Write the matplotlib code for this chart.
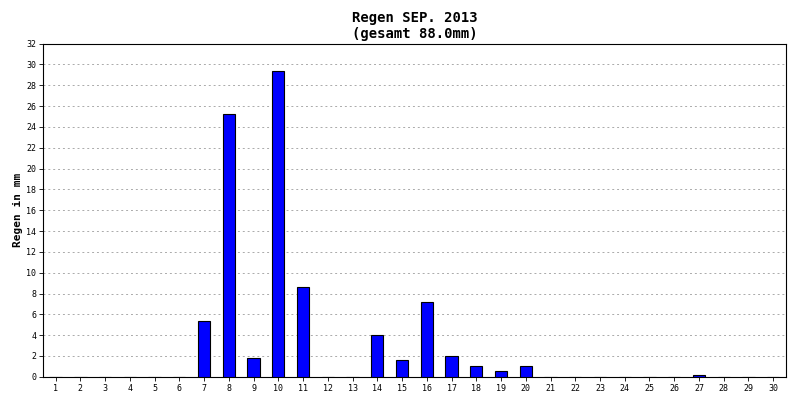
import numpy as np
import matplotlib
matplotlib.use("Agg")
import matplotlib.pyplot as plt

days = list(range(1, 31))
rain = [0, 0, 0, 0, 0, 0, 5.4, 25.2, 1.8, 29.4, 8.6, 0, 0, 4.0, 1.6,
        7.2, 2.0, 1.0, 0.6, 1.0, 0, 0, 0, 0, 0, 0, 0.2, 0, 0, 0]
yticks = list(range(0, 33, 2))

plt.rcParams["font.family"] = ["DejaVu Sans Mono"]

fig = plt.figure(figsize=(8, 4), dpi=100)
ax = fig.add_axes([0.054, 0.058, 0.928, 0.833])
ax.bar(days, rain, width=0.5, color="#0000ff", edgecolor="black", linewidth=0.8, zorder=3)
ax.set_xlim(0.5, 30.5)
ax.set_ylim(0, 32)
ax.set_xticks(days)
ax.set_xticklabels([str(d) for d in days], fontsize=6)
ax.set_yticks(yticks)
ax.set_yticklabels([str(v) for v in yticks], fontsize=6)
ax.tick_params(length=3, width=0.6, pad=2)
ax.grid(axis="y", linestyle=(0, (2, 3)), color="#aaaaaa", linewidth=0.7, zorder=0)
ax.set_ylabel("Regen in mm", fontsize=8, fontweight="bold", labelpad=2)
ax.set_title("Regen SEP. 2013\n(gesamt 88.0mm)", fontsize=10, fontweight="bold", pad=4)
for s in ax.spines.values():
    s.set_linewidth(0.8)

fig.savefig("out.png", dpi=100)
